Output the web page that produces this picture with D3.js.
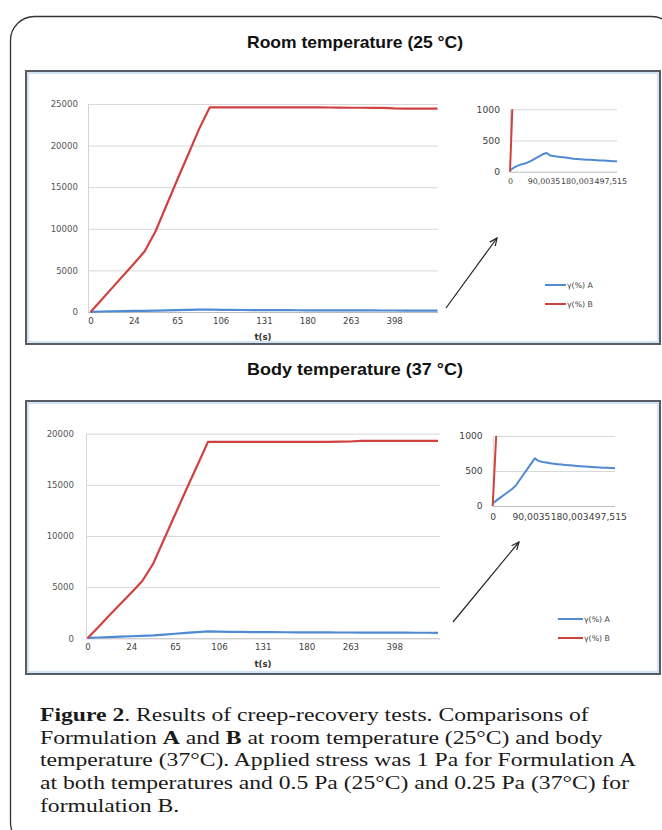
<!DOCTYPE html>
<html><head><meta charset="utf-8">
<script src="https://cdn.jsdelivr.net/npm/d3@7"></script>
<style>body{margin:0;background:#fff}svg{display:block}</style>
</head><body>
<script>
// ---------- data ----------
const panelTitles = ["Room temperature (25 °C)", "Body temperature (37 °C)"];
const xAxisTitle = "t(s)";
const seriesNames = ["γ(%) A", "γ(%) B"];
const xTickLabels = ["0", "24", "65", "106", "131", "180", "263", "398"];
const xTickEvery = 4;
const insetTickLabels = ["0", "90,0035", "180,003", "497,515"];
const insetTickEvery = 10;
const yTicksRoom = [0, 5000, 10000, 15000, 20000, 25000];
const yTicksBody = [0, 5000, 10000, 15000, 20000];
const insetYTicks = [0, 500, 1000];

const roomA = [20, 60, 90, 110, 125, 140, 165, 195, 225, 255, 285, 300, 260, 250, 242, 236, 230, 222, 215, 208, 203, 199, 196, 193, 190, 187, 184, 181, 178, 175, 172, 169, 166];
const roomB = [0, 1450, 2900, 4350, 5800, 7300, 9700, 12800, 15900, 18900, 21950, 24600, 24600, 24600, 24600, 24600, 24600, 24600, 24600, 24600, 24600, 24600, 24580, 24560, 24550, 24550, 24540, 24530, 24470, 24450, 24450, 24440, 24440];
const bodyA = [40, 80, 120, 160, 200, 240, 290, 368, 446, 524, 602, 680, 645, 628, 620, 612, 605, 598, 592, 587, 582, 577, 573, 569, 565, 561, 557, 554, 551, 548, 545, 542, 540];
const bodyB = [0, 1100, 2250, 3350, 4450, 5600, 7300, 9700, 12100, 14500, 16850, 19200, 19200, 19200, 19200, 19200, 19200, 19200, 19200, 19200, 19200, 19200, 19200, 19220, 19240, 19290, 19300, 19300, 19300, 19300, 19300, 19300, 19300];

const captionLines = [
  [["Figure 2", true], [". Results of creep-recovery tests. Comparisons of", false]],
  [["Formulation ", false], ["A", true], [" and ", false], ["B", true], [" at room temperature (25°C) and body", false]],
  [["temperature (37°C). Applied stress was 1 Pa for Formulation A", false]],
  [["at both temperatures and 0.5 Pa (25°C) and 0.25 Pa (37°C) for", false]],
  [["formulation B.", false]]
];

// ---------- drawing ----------
const W = 662, H = 830;
const colA = "#4f8ad3", colB = "#cf4240";
const svg = d3.select("body").append("svg").attr("width", W).attr("height", H);
const defs = svg.append("defs");
defs.append("marker").attr("id", "arrow").attr("viewBox", "0 0 10 10")
  .attr("refX", 9).attr("refY", 5).attr("markerWidth", 7).attr("markerHeight", 7)
  .attr("orient", "auto")
  .append("path").attr("d", "M0,1 L9,5 L0,9").attr("fill", "none").attr("stroke", "#222").attr("stroke-width", 1.4);

// outer rounded box
svg.append("rect").attr("x", 10.5).attr("y", 16.5).attr("width", 665).attr("height", 830)
  .attr("rx", 24).attr("fill", "none").attr("stroke", "#333").attr("stroke-width", 1.3);

const panels = [
  {title: panelTitles[0], ty: 48, A: roomA, B: roomB, yTicks: yTicksRoom,
   fx: 26, fy: 71, fw: 634, fh: 273,
   ax: 88, gx1: 438, x0: 90.5, x1: 437.5, yb: 312, yt: 104, pad: 10, xly: 327, tly: 340,
   inset: {ax: 510, gx1: 617, x0: 510, x1: 617, yb: 171.7, yt: 109.3, xly: 187.5, xfs: 7.9},
   legend: {x: 545, y: 285, len: 21},
   arrow: [446, 308, 497, 238]},
  {title: panelTitles[1], ty: 375, A: bodyA, B: bodyB, yTicks: yTicksBody,
   fx: 26, fy: 401, fw: 634, fh: 273,
   ax: 86, gx1: 440, x0: 87.5, x1: 438, yb: 638.3, yt: 433.7, pad: 12, xly: 653, tly: 667,
   inset: {ax: 492.7, gx1: 615, x0: 492.7, x1: 615, yb: 506, yt: 436, xly: 522.5, xfs: 9.2},
   legend: {x: 558, y: 619, len: 25},
   arrow: [453, 622, 519, 542]}
];

panels.forEach((p, pi) => {
  const g = svg.append("g");
  g.append("text").attr("x", 355).attr("y", p.ty).attr("text-anchor", "middle")
    .attr("font-family", "Liberation Sans, Arial, sans-serif").attr("font-weight", "bold")
    .attr("font-size", 17).attr("fill", "#111")
    .attr("textLength", 216).attr("lengthAdjust", "spacingAndGlyphs").text(p.title);

  // frame
  g.append("rect").attr("x", p.fx).attr("y", p.fy).attr("width", p.fw).attr("height", p.fh)
    .attr("fill", "#fff").attr("stroke", "#555c64").attr("stroke-width", 2);
  g.append("rect").attr("x", p.fx + 2).attr("y", p.fy + 2).attr("width", p.fw - 4).attr("height", p.fh - 4)
    .attr("fill", "none").attr("stroke", "#b5d3ee").attr("stroke-width", 1.2);

  const N = p.A.length;
  const yMax = p.yTicks[p.yTicks.length - 1];
  const x = d3.scaleLinear().domain([0, N - 1]).range([p.x0, p.x1]);
  const y = d3.scaleLinear().domain([0, yMax]).range([p.yb, p.yt]);

  const ya = g.append("g").attr("transform", `translate(${p.ax},0)`)
    .call(d3.axisLeft(y).tickValues(p.yTicks).tickSize(-(p.gx1 - p.ax)).tickSizeOuter(0)
      .tickPadding(p.pad).tickFormat(d3.format("d")));
  ya.select(".domain").attr("stroke", "#d4d4d4");
  ya.selectAll(".tick line").attr("stroke", d => d === 0 ? "#bcbcbc" : "#d9d9d9");
  ya.selectAll("text").attr("font-family", "DejaVu Sans, sans-serif").attr("font-size", 8.6).attr("fill", "#555");

  const xa = g.append("g").attr("transform", `translate(0,${p.xly - 9})`)
    .call(d3.axisBottom(x).tickValues(xTickLabels.map((d, i) => i * xTickEvery))
      .tickFormat((d, i) => xTickLabels[i]).tickSize(0).tickPadding(0));
  xa.select(".domain").remove();
  xa.selectAll("text").attr("font-family", "DejaVu Sans, sans-serif").attr("font-size", 8.6).attr("fill", "#404040");

  g.append("text").attr("x", (p.ax + p.gx1) / 2 + 0).attr("y", p.tly).attr("text-anchor", "middle")
    .attr("font-family", "DejaVu Sans, sans-serif").attr("font-weight", "bold").attr("font-size", 8.6)
    .attr("fill", "#333").text(xAxisTitle);

  const line = d3.line().x((d, i) => x(i)).y(d => y(d));
  g.append("path").datum(p.A).attr("d", line).attr("fill", "none").attr("stroke", colA).attr("stroke-width", 2.2).attr("stroke-linejoin", "round");
  g.append("path").datum(p.B).attr("d", line).attr("fill", "none").attr("stroke", colB).attr("stroke-width", 2.2).attr("stroke-linejoin", "round");

  // inset
  const q = p.inset;
  const xi = d3.scaleLinear().domain([0, N - 1]).range([q.x0, q.x1]);
  const yi = d3.scaleLinear().domain([0, 1000]).range([q.yb, q.yt]);
  const ia = g.append("g").attr("transform", `translate(${q.ax},0)`)
    .call(d3.axisLeft(yi).tickValues(insetYTicks).tickSize(-(q.gx1 - q.ax)).tickSizeOuter(0)
      .tickPadding(10).tickFormat(d3.format("d")));
  ia.select(".domain").attr("stroke", "#d4d4d4");
  ia.selectAll(".tick line").attr("stroke", d => d === 0 ? "#bcbcbc" : "#d9d9d9");
  ia.selectAll("text").attr("font-family", "DejaVu Sans, sans-serif").attr("font-size", 9.2).attr("fill", "#404040");
  const ixa = g.append("g").attr("transform", `translate(0,${q.xly - 9})`)
    .call(d3.axisBottom(xi).tickValues(insetTickLabels.map((d, i) => i * insetTickEvery))
      .tickFormat((d, i) => insetTickLabels[i]).tickSize(0).tickPadding(0));
  ixa.select(".domain").remove();
  ixa.selectAll("text").attr("font-family", "DejaVu Sans, sans-serif").attr("font-size", q.xfs).attr("fill", "#404040");

  const cid = "clip" + pi;
  defs.append("clipPath").attr("id", cid).append("rect")
    .attr("x", q.x0 - 2).attr("y", q.yt).attr("width", q.x1 - q.x0 + 4).attr("height", q.yb - q.yt + 3);
  const iline = d3.line().x((d, i) => xi(i)).y(d => yi(d));
  const ig = g.append("g").attr("clip-path", `url(#${cid})`);
  ig.append("path").datum(p.A).attr("d", iline).attr("fill", "none").attr("stroke", colA).attr("stroke-width", 2).attr("stroke-linejoin", "round");
  ig.append("path").datum(p.B).attr("d", iline).attr("fill", "none").attr("stroke", colB).attr("stroke-width", 2).attr("stroke-linejoin", "round");

  // arrow
  const a = p.arrow;
  g.append("line").attr("x1", a[0]).attr("y1", a[1]).attr("x2", a[2]).attr("y2", a[3])
    .attr("stroke", "#222").attr("stroke-width", 1.2).attr("marker-end", "url(#arrow)");

  // legend
  [colA, colB].forEach((c, k) => {
    const ly = p.legend.y + k * 19;
    g.append("line").attr("x1", p.legend.x).attr("x2", p.legend.x + p.legend.len)
      .attr("y1", ly).attr("y2", ly).attr("stroke", c).attr("stroke-width", 2);
    g.append("text").attr("x", p.legend.x + p.legend.len + 1).attr("y", ly).attr("dy", "0.35em")
      .attr("font-family", "DejaVu Sans, sans-serif").attr("font-size", 7.8).attr("fill", "#404040")
      .text(seriesNames[k]);
  });
});

// caption: fixed font size, each line stretched horizontally to the reference's width
const cap = svg.append("g").attr("font-family", "Liberation Serif, Times New Roman, serif").attr("fill", "#1a1a1a");
const capY = [721, 744, 766, 789, 812];
const fs = 18.5;
const texts = captionLines.map((ln, i) => {
  const t = cap.append("text").attr("x", 40).attr("y", capY[i]).attr("font-size", fs);
  ln.forEach(([s, b]) => t.append("tspan").attr("font-weight", b ? "bold" : "normal").text(s));
  return t;
});
const k = 596 / texts[2].node().getComputedTextLength();
texts.forEach(t => {
  const w = t.node().getComputedTextLength();
  t.attr("textLength", w * k).attr("lengthAdjust", "spacingAndGlyphs");
});
</script>
</body></html>
